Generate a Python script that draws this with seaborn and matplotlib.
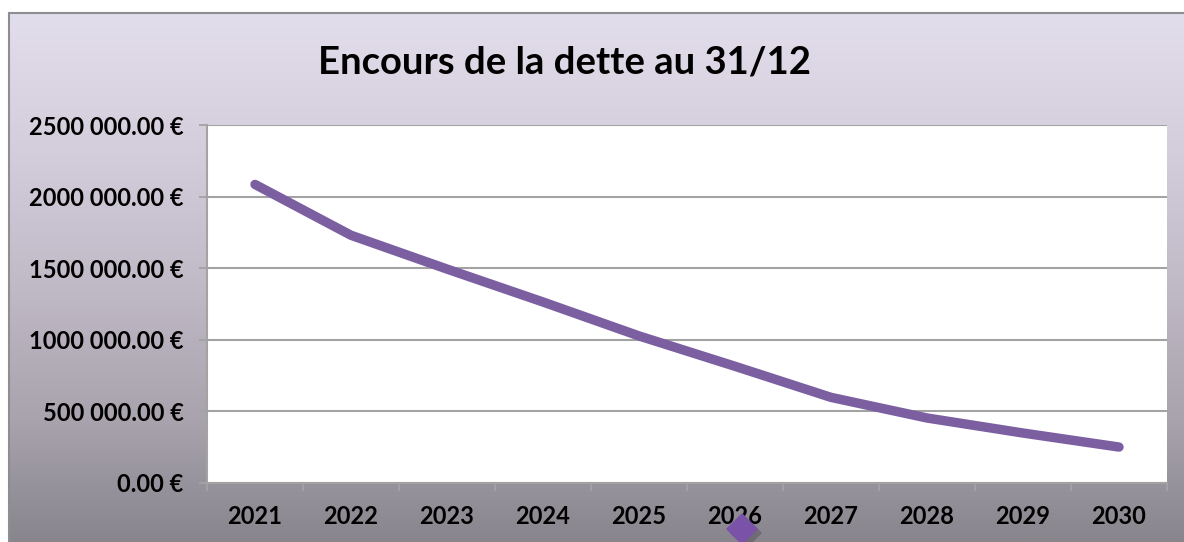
import numpy as np
import pandas as pd
import matplotlib
matplotlib.use('Agg')
import matplotlib.pyplot as plt
from matplotlib.colors import LinearSegmentedColormap
from matplotlib.ticker import FixedLocator, FuncFormatter
import seaborn as sns

# Data
years = ['2021', '2022', '2023', '2024', '2025', '2026', '2027', '2028', '2029', '2030']
encours = [2085000, 1730000, 1494000, 1264000, 1027000, 815000, 598000, 454000, 349000, 251000]
yticks = [0, 500000, 1000000, 1500000, 2000000, 2500000]

LINE_COLOR = '#7B5FA1'
GRID_COLOR = '#A3A3A3'
TITLE = 'Encours de la dette au 31/12'

W, H = 1184, 542


def euro_fmt(v, pos=None):
    v = int(round(v))
    if v >= 1000:
        return '%d %03d.00 €' % (v // 1000, v % 1000)
    return '%d.00 €' % v


sns.set_theme(style='white')
plt.rcParams['font.family'] = ['Lato', 'DejaVu Sans']
plt.rcParams['font.weight'] = 'bold'

fig = plt.figure(figsize=(W / 100, H / 100), dpi=100)
fig.patch.set_facecolor('white')

# Gradient background of the chart frame (runs past the right and bottom edges)
bg = fig.add_axes([9 / W, 0, 1 - 9 / W, (H - 13) / H], zorder=-2)
bg_cmap = LinearSegmentedColormap.from_list('bg', [
    (0.00, '#E3DEEB'),
    (0.26, '#D4CDDC'),
    (0.54, '#BEB7C4'),
    (0.77, '#A8A3AD'),
    (1.00, '#88858D'),
])
bg.imshow(np.linspace(0, 1, 256).reshape(-1, 1), aspect='auto', cmap=bg_cmap,
          extent=[0, 1, 0, 1], origin='upper')
bg.set_xlim(0, 1)
bg.set_ylim(0, 1)
bg.set_xticks([])
bg.set_yticks([])
for side in ['right', 'bottom']:
    bg.spines[side].set_visible(False)
for side in ['left', 'top']:
    bg.spines[side].set_color('#8E8E8E')
    bg.spines[side].set_linewidth(1.5)

# Plot area
ax = fig.add_axes([207 / W, (H - 483) / H, (1167 - 207) / W, (483 - 125) / H])
ax.set_facecolor('white')

df = pd.DataFrame({'Année': years, 'Encours': encours})
sns.lineplot(data=df, x='Année', y='Encours', ax=ax, color=LINE_COLOR,
             linewidth=6.8, solid_capstyle='round', solid_joinstyle='round',
             sort=False, zorder=3)

ax.set_xlim(-0.5, len(years) - 0.5)
ax.set_ylim(yticks[0], yticks[-1])
ax.yaxis.set_major_locator(FixedLocator(yticks))
ax.yaxis.set_major_formatter(FuncFormatter(euro_fmt))

ax.set_xticks(range(len(years)))
ax.set_xticklabels(years)
ax.set_xticks(np.arange(-0.5, len(years)), minor=True)
ax.tick_params(axis='x', which='major', length=0, pad=16, labelsize=17, labelcolor='black')
ax.tick_params(axis='x', which='minor', length=6, width=1.3, color=GRID_COLOR, direction='out', bottom=True)
ax.tick_params(axis='y', which='major', length=6, width=1.3, color=GRID_COLOR, direction='out', left=True,
               pad=11, labelsize=17, labelcolor='black')

ax.grid(axis='y', color=GRID_COLOR, linewidth=1.5)
ax.grid(axis='x', visible=False)
ax.set_axisbelow(True)
ax.spines['right'].set_visible(False)
ax.spines['top'].set_visible(False)
for side in ['left', 'bottom']:
    ax.spines[side].set_color(GRID_COLOR)
    ax.spines[side].set_linewidth(1.5)
ax.set_xlabel('')
ax.set_ylabel('')

fig.text(564 / W, 1 - 63 / H, TITLE, ha='center', va='center',
         fontsize=27.5, fontweight='bold', color='black')

# Stray purple diamond under the 2026 label
fig.lines.append(plt.Line2D([746 / W], [1 - 533 / H], transform=fig.transFigure,
                            marker='D', markersize=16, color='#3E3A44', alpha=0.35,
                            markeredgewidth=0, linestyle='none', zorder=1))
fig.lines.append(plt.Line2D([742 / W], [1 - 529 / H], transform=fig.transFigure,
                            marker='D', markersize=16, color='#7A52A8',
                            markeredgewidth=0, linestyle='none', zorder=1))

fig.savefig('out.png', dpi=100)
